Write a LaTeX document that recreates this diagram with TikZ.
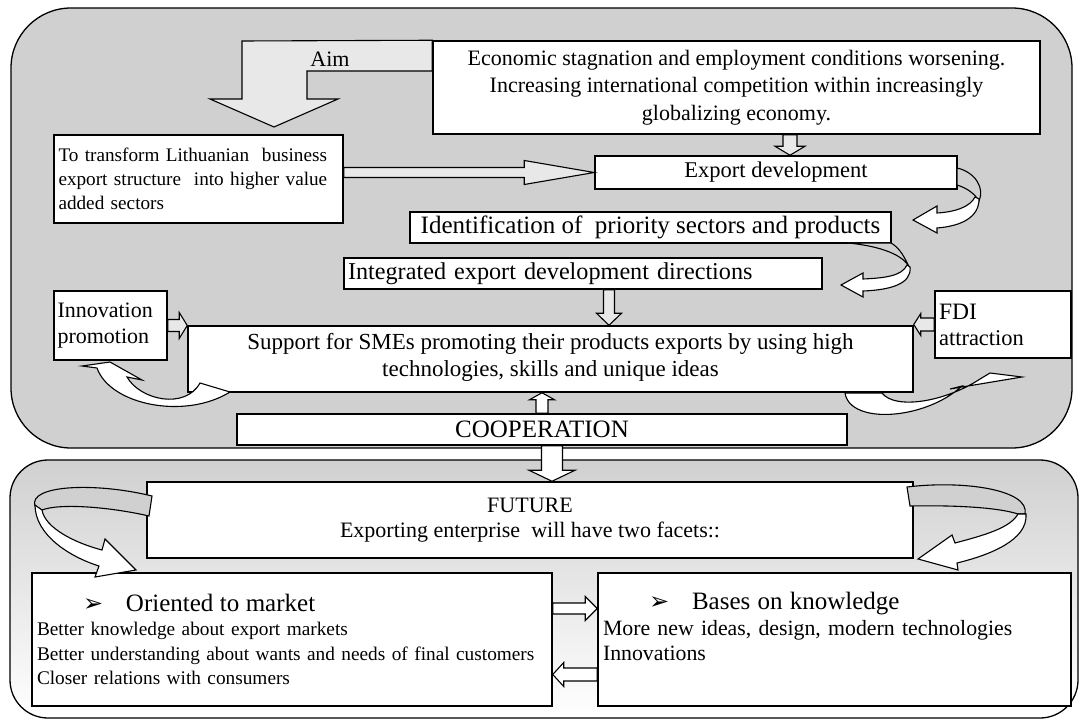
\documentclass[tikz,border=0pt]{standalone}
\usepackage{fontspec}
\setmainfont{Liberation Serif}
\newfontfamily\bulletfont{DejaVu Sans}
\usetikzlibrary{calc}
\definecolor{Panel}{HTML}{D0D0D0}
\definecolor{Pale}{HTML}{E8E8E8}
\tikzset{
    panel/.style={draw=black, line width=1.3pt, rounded corners=60pt},
    box/.style={rectangle, draw=black, fill=white, line width=1.5pt, inner sep=3pt},
    blockarrow/.style={draw=black, fill=Pale, line width=1.1pt, line join=miter},
    curvearrow/.style={draw=black, fill=white, line width=1.1pt},
    curveback/.style={draw=black, fill=Panel, line width=1.1pt},
}
% hollow straight arrows: [style]{from}{to}{half shaft}{half head}{head length}
\newcommand{\vblock}[6][]{%
  \draw[blockarrow,#1] let \p1=(#2), \p2=(#3), \n1={(\y1-\y2)/abs(\y1-\y2)} in
    ({\x1-#4},\y1) -- ({\x1-#4},{\y2+\n1*#6}) -- ({\x1-#5},{\y2+\n1*#6}) -- (\x1,\y2)
    -- ({\x1+#5},{\y2+\n1*#6}) -- ({\x1+#4},{\y2+\n1*#6}) -- ({\x1+#4},\y1) -- cycle;
}
\newcommand{\hblock}[6][]{%
  \draw[blockarrow,#1] let \p1=(#2), \p2=(#3), \n1={(\x1-\x2)/abs(\x1-\x2)} in
    (\x1,{\y1+#4}) -- ({\x2+\n1*#6},{\y1+#4}) -- ({\x2+\n1*#6},{\y1+#5}) -- (\x2,\y1)
    -- ({\x2+\n1*#6},{\y1-#5}) -- ({\x2+\n1*#6},{\y1-#4}) -- (\x1,{\y1-#4}) -- cycle;
}
\newcommand{\facet}[1]{\hspace*{46pt}\makebox[43pt][l]{\bulletfont\fontsize{24}{26}\selectfont ➢}{\fontsize{25}{28}\selectfont #1}}

\begin{document}
\begin{tikzpicture}[x=1pt, y=-1pt]
\useasboundingbox (0,0) rectangle (1081,727);

% the two panels
\draw[panel, fill=Panel] (11,8) rectangle (1072,448);
\shade[top color=Panel, bottom color=white, rounded corners=38pt] (10,460) rectangle (1078,718);
\draw[panel, rounded corners=38pt] (10,460) rectangle (1078,718);

% upper panel
\node[box, minimum width=607pt, minimum height=93pt, align=center, font=\fontsize{22}{27.5}\selectfont] (econ) at (736.5,87.5)
    {Economic stagnation and employment conditions worsening.\\ Increasing international competition within increasingly\\ globalizing economy.};
\node[box, minimum width=289pt, minimum height=88pt, text width=280pt, align=left, font=\fontsize{19.2}{24}\selectfont] (transform) at (198.5,179)
    {To transform Lithuanian~ business\\ export structure~ into higher value\\ added sectors};
\node[box, minimum width=362pt, minimum height=33pt, font=\fontsize{22.5}{26}\selectfont] (expdev) at (776,172.5) {Export development};
\node[box, minimum width=481pt, minimum height=31pt, font=\fontsize{25}{28}\selectfont] (ident) at (650.5,227.5) {Identification of~ priority sectors and products};
\node[box, minimum width=478pt, minimum height=31pt, text width=470pt, align=left, font=\fontsize{24.2}{28}\selectfont] (integ) at (583,273.5) {Integrated export development directions};
\node[box, minimum width=725pt, minimum height=66pt, align=center, font=\fontsize{23}{27}\selectfont] (support) at (550.5,359)
    {Support for SMEs promoting their products exports by using high\\ technologies, skills and unique ideas\\[-18pt]\mbox{}};
\node[box, minimum width=113pt, minimum height=69pt, text width=106pt, align=left, font=\fontsize{22}{26}\selectfont] (innov) at (110.5,325.5) {Innovation\\ promotion};
\node[box, minimum width=136pt, minimum height=67pt, text width=128pt, align=left, font=\fontsize{22.5}{26}\selectfont] (fdi) at (1003,324.5) {{\fontsize{23.5}{26}\selectfont FDI}\\ attraction};
\node[box, minimum width=610pt, minimum height=31pt, font=\fontsize{25}{28}\selectfont] (coop) at (542,429.5) {COOPERATION};

% lower panel
\node[box, minimum width=766pt, minimum height=76pt, align=center, font=\fontsize{22}{25}\selectfont] (future) at (530,520)
    {FUTURE\\ Exporting enterprise~ will have two facets::};
\node[box, minimum width=520pt, minimum height=133pt, text width=510pt, align=left, font=\fontsize{19.3}{24.5}\selectfont] (market) at (292,639.5)
    {\facet{Oriented to market}\\
     Better knowledge about export markets\\
     Better understanding about wants and needs of final customers\\
     Closer relations with consumers};
\node[box, minimum width=473pt, minimum height=133pt, text width=463pt, align=left, font=\fontsize{21.8}{25.5}\selectfont] (knowl) at (834.5,639.5)
    {\facet{Bases on knowledge}\\
     More new ideas, design, modern technologies\\
     Innovations\\ \mbox{}};

% Aim
\draw[blockarrow] (econ.north west) -- (242,41) -- (242,99) -- (210,99) -- (274,127) -- (338,99) -- (307,99) -- (307,71) -- (econ.west |- 0,71) -- cycle;
\node[font=\fontsize{22}{25}\selectfont] (aim) at (330,59) {Aim};

% straight arrows
\coordinate (t1) at ([xshift=14pt]expdev.north);
\coordinate (t2) at ([xshift=26pt]integ.south);
\coordinate (t3) at ([xshift=10pt]coop.south);
\hblock{transform.east |- expdev.west}{expdev.west}{5pt}{12pt}{70pt}
\vblock{econ.south -| t1}{t1}{7pt}{15pt}{9pt}
\vblock{t2}{support.north -| t2}{5.5pt}{12.5pt}{12pt}
\hblock{innov.east}{support.west}{6pt}{13pt}{8pt}
\hblock{fdi.west}{support.east}{6.5pt}{11pt}{7pt}
\vblock[fill=white]{coop.north}{support.south -| coop.north}{6pt}{12.5pt}{7pt}
\vblock[fill=white]{t3}{future.north -| t3}{10.5pt}{23pt}{11pt}
\hblock[fill=white]{[yshift=31pt]market.east}{knowl.west}{5.5pt}{12pt}{12pt}
\hblock[fill=white]{[yshift=-35pt]knowl.west}{market.east}{6.5pt}{12pt}{11pt}

% curved arrows
\draw[curveback] (957,168) .. controls (975,172) and (985,188) .. (979,201) .. controls (975,194) and (967,188) .. (957,185) -- cycle;
\draw[curvearrow] (979,199) .. controls (979,217) and (962,226) .. (937,228) -- (937,233) -- (913,220) -- (937,206) -- (937,213) .. controls (955,212) and (970,207) .. (975,197) -- cycle;
\draw[curveback] (848,243) .. controls (880,246) and (905,255) .. (910,269) .. controls (905,258) and (900,248) .. (891,243) -- cycle;
\draw[curvearrow] (910,267) .. controls (912,284) and (890,290) .. (863,291) -- (863,297) -- (841,285) -- (863,273) -- (863,279) .. controls (885,278) and (902,276) .. (907,265) -- cycle;
\draw[curvearrow] (97,368) .. controls (110,405) and (185,420) .. (230,392) -- (200,383) .. controls (185,410) and (140,400) .. (127,377) -- (142,380) -- (110,362) -- (82,366) -- cycle;
\draw[curvearrow] (845,393) .. controls (850,425) and (925,420) .. (962,386) -- (950,389) -- (1022,377) -- (990,373) -- (980,379) .. controls (945,402) and (895,410) .. (882,393) -- cycle;
\draw[curveback] (152,496) .. controls (95,482) and (28,485) .. (35,506) -- (42,510) .. controls (60,503) and (110,507) .. (149,516) -- cycle;
\draw[curvearrow] (35,505) .. controls (35,535) and (70,557) .. (99,566) -- (95,577) -- (136,570) -- (105,539) -- (102,550) .. controls (75,543) and (45,528) .. (42,510) -- cycle;
\draw[curveback] (907,487) .. controls (965,480) and (1030,490) .. (1025,514) -- (1018,514) .. controls (1000,508) and (960,505) .. (910,506) -- cycle;
\draw[curvearrow] (1026,514) .. controls (1028,540) and (990,555) .. (957,563) -- (958,570) -- (918,559) -- (952,535) -- (955,543) .. controls (985,535) and (1010,528) .. (1018,514) -- cycle;
\end{tikzpicture}
\end{document}
